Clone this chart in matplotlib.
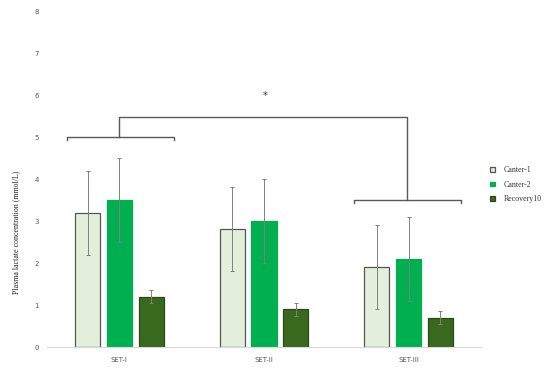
import matplotlib
matplotlib.use("Agg")
import matplotlib.pyplot as plt
import numpy as np

categories = ["SET-I", "SET-II", "SET-III"]
series = ["Canter-1", "Canter-2", "Recovery10"]
canter1 = [3.2, 2.8, 1.9]
canter1_err = [1.0, 1.0, 1.0]
canter2 = [3.5, 3.0, 2.1]
canter2_err = [1.0, 1.0, 1.0]
recovery = [1.2, 0.9, 0.7]
recovery_err = [0.15, 0.15, 0.15]
yticks = [0, 1, 2, 3, 4, 5, 6, 7, 8]

values = [canter1, canter2, recovery]
errors = [canter1_err, canter2_err, recovery_err]
colors = ["#E2EFDA", "#00B050", "#38691C"]
edges = ["#555555", "#00B050", "#2A4A17"]

fig = plt.figure(figsize=(5.5, 3.68), dpi=100)
ax = fig.add_axes([0.0855, 0.057, 0.789, 0.913])

x = np.arange(len(categories))
width = 0.173
offset = 0.22
for i, (vals, errs) in enumerate(zip(values, errors)):
    ax.bar(x + (i - 1) * offset, vals, width, color=colors[i], edgecolor=edges[i],
           linewidth=0.9, label=series[i], zorder=2)
    ax.errorbar(x + (i - 1) * offset, vals, yerr=errs, fmt="none", ecolor="#808080",
                elinewidth=0.7, capsize=1.5, capthick=0.7, zorder=3)

# significance brackets
bc = "#595959"
lw = 1.0
ax.plot([-0.36, -0.36, 0.38, 0.38], [4.93, 5.0, 5.0, 4.93], color=bc, lw=lw, zorder=4)
ax.plot([1.62, 1.62, 2.36, 2.36], [3.43, 3.5, 3.5, 3.43], color=bc, lw=lw, zorder=4)
ax.plot([0.0, 0.0, 1.99, 1.99], [5.0, 5.47, 5.47, 3.5], color=bc, lw=lw, zorder=4)
ax.text(1.01, 5.98, "*", ha="center", va="center", fontsize=7, color="#333333",
        family="DejaVu Sans")

ax.set_xlim(-0.5, 2.5)
ax.set_ylim(0, 8)
ax.set_yticks(yticks)
ax.set_xticks(x)
ax.set_xticklabels(categories)
ax.tick_params(axis="both", length=0, labelsize=5, colors="#595959")
ax.tick_params(axis="x", pad=7)
ax.tick_params(axis="y", pad=6)
for s in ["top", "right", "left"]:
    ax.spines[s].set_visible(False)
ax.spines["bottom"].set_color("#D9D9D9")
ax.spines["bottom"].set_linewidth(0.8)

ax.set_ylabel("Plasma lactate concentration (mmol/L)", family="Liberation Serif",
              fontsize=5.7, color="#222222")
ax.yaxis.set_label_coords(-0.061, 0.342)

leg = ax.legend(loc="upper left", bbox_to_anchor=(1.005, 0.56), frameon=False,
                prop={"family": "Liberation Serif", "size": 5.7},
                handlelength=0.55, handleheight=0.55, handletextpad=1.1,
                labelspacing=0.85)
for t in leg.get_texts():
    t.set_color("#333333")

fig.savefig("out.png", dpi=100)
